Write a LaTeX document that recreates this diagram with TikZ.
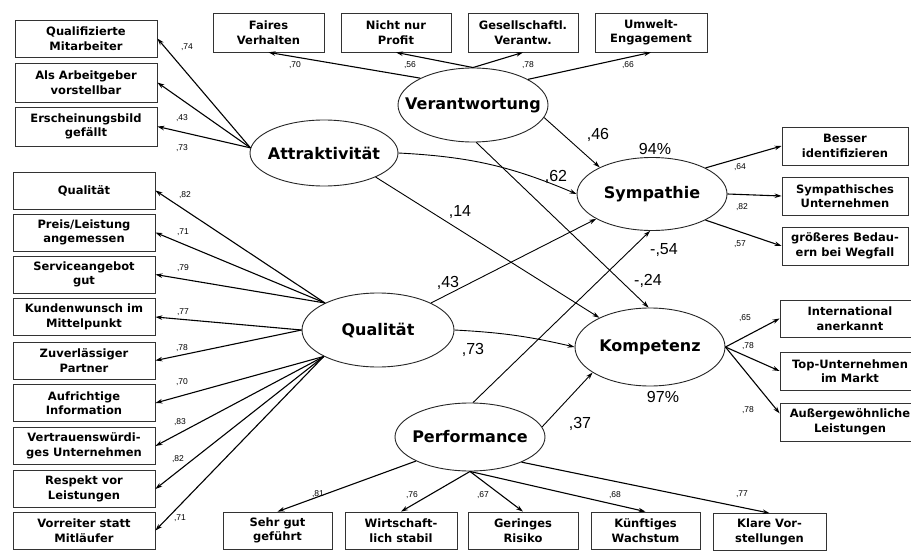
\documentclass[tikz,border=0pt]{standalone}
\usepackage{fontspec}
\setmainfont{DejaVu Sans}
\newfontfamily\numfont{Liberation Sans}
\usetikzlibrary{shapes.geometric,arrows.meta}
\begin{document}
\begin{tikzpicture}[x=1pt,y=-1pt,
  box/.style={draw=black!80, line width=0.8pt, align=center, inner sep=0pt,
    font=\fontsize{11.5}{14.5}\selectfont\bfseries},
  lat/.style={draw=black!85, ellipse, line width=0.9pt, inner sep=0pt,
    font=\fontsize{16}{18}\selectfont\bfseries},
  ld/.style={-{Stealth[length=7pt,width=4.5pt]}, line width=1.1pt},
  sp/.style={-{Stealth[length=7pt,width=4.5pt]}, line width=0.9pt},
  lw/.style={font=\numfont\fontsize{8.5}{10}\selectfont, inner sep=0pt},
  cf/.style={font=\numfont\fontsize{16}{18}\selectfont, inner sep=0pt}]
\useasboundingbox (0,0) rectangle (911,551);
\fill[white] (0,0) rectangle (911,551);
\clip (0,0) rectangle (911,551);

% latent variables
\node[lat, minimum width=148, minimum height=66] (att) at (324,153) {\makebox[0pt]{Attraktivität}};
\node[lat, minimum width=150, minimum height=74] (ver) at (473,105) {\makebox[0pt]{Verantwortung}};
\node[lat, minimum width=152, minimum height=74] (qua) at (378,330) {\makebox[0pt]{Qualität}};
\node[lat, minimum width=150, minimum height=68] (per) at (470,437) {\makebox[0pt]{Performance}};
\node[lat, minimum width=150, minimum height=73] (sym) at (652,194) {\makebox[0pt]{Sympathie}};
\node[lat, minimum width=150, minimum height=78] (kom) at (650,347) {\makebox[0pt]{Kompetenz}};

% Attraktivität indicators
\node[box, minimum width=142, minimum height=37] (a1) at (86,38.5) {Qualifizierte\\Mitarbeiter};
\node[box, minimum width=142, minimum height=39] (a2) at (86,82.5) {Als Arbeitgeber\\vorstellbar};
\node[box, minimum width=142, minimum height=39] (a3) at (86,126.5) {Erscheinungsbild\\gefällt};

% Verantwortung indicators
\node[box, minimum width=111, minimum height=39] (t1) at (268.5,32.5) {Faires\\Verhalten};
\node[box, minimum width=110, minimum height=39] (t2) at (396,32.5) {Nicht nur\\Profit};
\node[box, minimum width=110, minimum height=39] (t3) at (523,32.5) {Gesellschaftl.\\Verantw.};
\node[box, minimum width=112, minimum height=39] (t4) at (651,32.5) {Umwelt-\\Engagement};

% Sympathie indicators
\node[box, minimum width=126, minimum height=38] (s1) at (845,146) {Besser\\identifizieren};
\node[box, minimum width=126, minimum height=38] (s2) at (845,196) {Sympathisches\\Unternehmen};
\node[box, minimum width=126, minimum height=38] (s3) at (845,246) {größeres Bedau-\\ern bei Wegfall};

% Kompetenz indicators
\node[box, minimum width=140, minimum height=37] (k1) at (850,318.5) {International\\anerkannt};
\node[box, minimum width=140, minimum height=38] (k2) at (850,371) {Top-Unternehmen\\im Markt};
\node[box, minimum width=140, minimum height=38] (k3) at (850,422) {Außergewöhnliche\\Leistungen};

% Qualität indicators
\node[box, minimum width=142, minimum height=37] (q1) at (84,190.5) {Qualität};
\node[box, minimum width=142, minimum height=37] (q2) at (84,232.5) {Preis/Leistung\\angemessen};
\node[box, minimum width=142, minimum height=37] (q3) at (84,274.5) {Serviceangebot\\gut};
\node[box, minimum width=142, minimum height=37] (q4) at (84,317) {Kundenwunsch im\\Mittelpunkt};
\node[box, minimum width=142, minimum height=37] (q5) at (84,360.5) {Zuverlässiger\\Partner};
\node[box, minimum width=142, minimum height=37] (q6) at (84,403) {Aufrichtige\\Information};
\node[box, minimum width=142, minimum height=37] (q7) at (84,446) {Vertrauenswürdi-\\ges Unternehmen};
\node[box, minimum width=142, minimum height=37] (q8) at (84,489) {Respekt vor\\Leistungen};
\node[box, minimum width=142, minimum height=37] (q9) at (84,530.5) {Vorreiter statt\\Mitläufer};

% Performance indicators
\node[box, minimum width=109, minimum height=37] (b1) at (277.5,530.5) {Sehr gut\\geführt};
\node[box, minimum width=112, minimum height=37] (b2) at (401,530.5) {Wirtschaft-\\lich stabil};
\node[box, minimum width=110, minimum height=37] (b3) at (523,530.5) {Geringes\\Risiko};
\node[box, minimum width=109, minimum height=37] (b4) at (645.5,530.5) {Künftiges\\Wachstum};
\node[box, minimum width=113, minimum height=37] (b5) at (769.5,532) {Klare Vor-\\stellungen};

% loadings
\draw[ld] (att.176) -- (a1.east);
\draw[ld] (att.176) -- (a2.east);
\draw[ld] (att.176) -- (a3.east);

\draw[ld] (ver.153) -- (t1.south);
\draw[ld] (ver.north) -- (t2.south);
\draw[ld] (ver.north) -- (t3.south);
\draw[ld] (ver.25) -- (t4.south);

\draw[ld] (sym.26) -- (s1.west);
\draw[ld] (sym.east) -- (s2.west);
\draw[ld] (sym.334) -- (s3.west);

\draw[ld] (kom.east) -- (k1.west);
\draw[ld] (kom.east) -- (k2.west);
\draw[ld] (kom.east) -- (k3.173);

\draw[ld] (qua.153) -- (q1.east);
\draw[ld] (qua.153) -- (q2.east);
\draw[ld] (qua.153) -- (q3.east);
\draw[ld] (qua.west) -- (q4.east);
\draw[ld] (qua.west) -- (q5.east);
\draw[ld] (qua.206) -- (q6.east);
\draw[ld] (qua.206) -- (q7.east);
\draw[ld] (qua.206) -- (q8.east);
\draw[ld] (qua.206) -- (q9.east);

\draw[ld] (per.204) -- (b1.north);
\draw[ld] (per.south) -- (b2.north);
\draw[ld] (per.south) -- (b3.north);
\draw[ld] (per.south) -- (b4.north);
\draw[ld] (per.334) -- (b5.north);

% structural paths
\draw[sp] (ver.350) -- (sym.153);
\draw[sp] (ver.275) -- (kom.92);
\draw[sp] (att.east) to[bend left=10] (sym.west);
\draw[sp] (att.335) -- (kom.150);
\draw[sp] (qua.27) -- (sym.204);
\draw[sp] (qua.east) to[bend left=5] (kom.west);
\draw[sp] (per.85) -- (sym.267);
\draw[sp] (per.8) -- (kom.204);

% coefficient labels
\node[cf] (c46) at (598,135) {,46};
\node[cf] (c62) at (556,177) {,62};
\node[cf] (c14) at (460,212) {,14};
\node[cf] (c43) at (448,283) {,43};
\node[cf] (c73) at (473,350) {,73};
\node[cf] (c54) at (664,250) {-,54};
\node[cf] (c24) at (648,281) {-,24};
\node[cf] (c37) at (580,424) {,37};
\node[cf] (r94) at (655,149) {94\%};
\node[cf] (r97) at (663,397) {97\%};

% loading labels
\node[lw] (la1) at (187,47) {,74};
\node[lw] (la2) at (182,118) {,43};
\node[lw] (la3) at (182,148) {,73};
\node[lw] (lt1) at (295,65) {,70};
\node[lw] (lt2) at (410,65) {,56};
\node[lw] (lt3) at (528,65) {,78};
\node[lw] (lt4) at (628,65) {,66};
\node[lw] (ls1) at (740,167) {,64};
\node[lw] (ls2) at (742,207) {,82};
\node[lw] (ls3) at (740,244) {,57};
\node[lw] (lk1) at (745,318) {,65};
\node[lw] (lk2) at (748,346) {,78};
\node[lw] (lk3) at (748,410) {,78};
\node[lw] (lq1) at (185,195) {,82};
\node[lw] (lq2) at (183,232) {,71};
\node[lw] (lq3) at (183,268) {,79};
\node[lw] (lq4) at (183,312) {,77};
\node[lw] (lq5) at (182,348) {,78};
\node[lw] (lq6) at (182,382) {,70};
\node[lw] (lq7) at (180,422) {,83};
\node[lw] (lq8) at (178,459) {,82};
\node[lw] (lq9) at (180,518) {,71};
\node[lw] (lb1) at (318,494) {,81};
\node[lw] (lb2) at (412,495) {,76};
\node[lw] (lb3) at (483,495) {,67};
\node[lw] (lb4) at (615,495) {,68};
\node[lw] (lb5) at (742,494) {,77};
\end{tikzpicture}
\end{document}
